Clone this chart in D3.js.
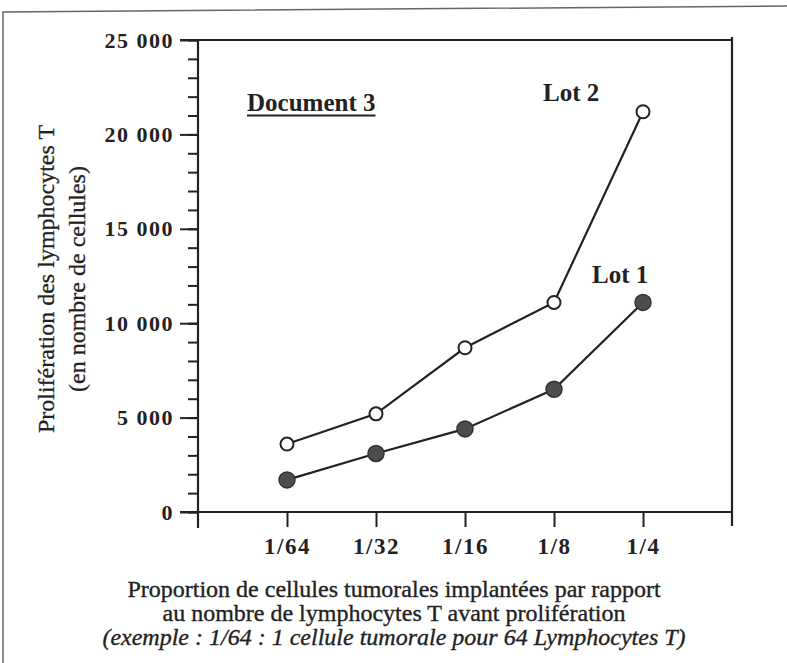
<!DOCTYPE html>
<html><head><meta charset="utf-8">
<script src="https://cdn.jsdelivr.net/npm/d3@7"></script>
<style>body{margin:0;background:#fff}svg{display:block}</style>
</head><body>
<svg id="c" width="787" height="663"></svg>
<script>
const categories = ["1/64", "1/32", "1/16", "1/8", "1/4"];
const lot1 = [1700, 3100, 4400, 6500, 11100];
const lot2 = [3600, 5200, 8700, 11100, 21200];
const yMajorTicks = [0, 5000, 10000, 15000, 20000, 25000];
const yMinorTicks = d3.range(0, 25001, 1000);
const seriesLabels = ["Lot 1", "Lot 2"];
const docTitle = "Document 3";
const yTitle = ["Prolifération des lymphocytes T", "(en nombre de cellules)"];
const xTitle = [
  "Proportion de cellules tumorales implantées par rapport",
  "au nombre de lymphocytes T avant prolifération",
  "(exemple : 1/64 : 1 cellule tumorale pour 64 Lymphocytes T)"
];

const svg = d3.select("#c");
const serif = "'Liberation Serif', 'Times New Roman', serif";
const ink = "#222";

// outer scanned frame
svg.append("path")
  .attr("d", "M3,663 L3,12 L787,6")
  .attr("fill", "none").attr("stroke", "#666").attr("stroke-width", 1.5);

const x = d3.scaleLinear().domain([0, categories.length + 1]).range([198, 732]);
const y = d3.scaleLinear().domain([0, 25000]).range([512, 40]);

const loc = d3.formatLocale({decimal: ",", thousands: " ", grouping: [3], currency: ["", ""]});
const fmt = loc.format(",d");

// minor y ticks
const gMinor = svg.append("g").attr("transform", `translate(${x(0)},0)`)
  .call(d3.axisLeft(y).tickValues(yMinorTicks).tickSize(10).tickFormat(""));
gMinor.select(".domain").remove();
gMinor.selectAll("line").attr("stroke", ink).attr("stroke-width", 2);

// major y ticks
const gY = svg.append("g").attr("transform", `translate(${x(0)},0)`)
  .call(d3.axisLeft(y).tickValues(yMajorTicks).tickSize(18).tickPadding(6).tickFormat(fmt));
gY.select(".domain").remove();
gY.selectAll("line").attr("stroke", ink).attr("stroke-width", 2);
gY.selectAll("text")
  .attr("font-family", serif).attr("font-size", 22).attr("font-weight", "bold")
  .attr("letter-spacing", "1.5px").attr("fill", ink);

// x axis
const gX = svg.append("g").attr("transform", `translate(0,${y(0)})`)
  .call(d3.axisBottom(x).tickValues(d3.range(1, categories.length + 1))
    .tickSize(15).tickPadding(11).tickFormat(i => categories[i - 1]));
gX.select(".domain").remove();
gX.selectAll("line").attr("stroke", ink).attr("stroke-width", 2);
gX.selectAll("text")
  .attr("font-family", serif).attr("font-size", 23).attr("font-weight", "bold")
  .attr("letter-spacing", "1.5px").attr("fill", ink);

// frame lines
const frame = svg.append("g").attr("stroke", ink).attr("stroke-width", 2.2).attr("fill", "none");
frame.append("line").attr("x1", x(0) - 18).attr("x2", x(categories.length + 1)).attr("y1", y(0)).attr("y2", y(0));
frame.append("line").attr("x1", x(0) - 18).attr("x2", x(categories.length + 1)).attr("y1", y(25000)).attr("y2", y(25000));
frame.append("line").attr("x1", x(0)).attr("x2", x(0)).attr("y1", y(25000)).attr("y2", y(0) + 16);
frame.append("line").attr("x1", x(categories.length + 1)).attr("x2", x(categories.length + 1)).attr("y1", y(25000) - 3).attr("y2", y(0) + 14);

// series lines
const line = d3.line().x((d, i) => x(i + 1)).y(d => y(d));
[lot2, lot1].forEach(s => {
  svg.append("path").datum(s).attr("d", line)
    .attr("fill", "none").attr("stroke", ink).attr("stroke-width", 2.2);
});

// markers
svg.append("g").selectAll("circle").data(lot1).join("circle")
  .attr("cx", (d, i) => x(i + 1)).attr("cy", d => y(d)).attr("r", 8)
  .attr("fill", "#4d4d4d").attr("stroke", "#333").attr("stroke-width", 1.5);
svg.append("g").selectAll("circle").data(lot2).join("circle")
  .attr("cx", (d, i) => x(i + 1)).attr("cy", d => y(d)).attr("r", 6.5)
  .attr("fill", "#fff").attr("stroke", ink).attr("stroke-width", 2);

// labels
const lbl = (t, xx, yy) => svg.append("text").attr("x", xx).attr("y", yy).text(t)
  .attr("font-family", serif).attr("font-size", 25).attr("font-weight", "bold").attr("fill", ink);
const doc = lbl(docTitle, 247, 111);
const dw = doc.node().getComputedTextLength();
svg.append("line").attr("x1", 247).attr("x2", 247 + dw).attr("y1", 115.5).attr("y2", 115.5)
  .attr("stroke", ink).attr("stroke-width", 2);
lbl(seriesLabels[1], 543, 101);
lbl(seriesLabels[0], 592, 283);

// y title
yTitle.forEach((t, i) => {
  svg.append("text").attr("transform", `translate(${54 + i * 31},279) rotate(-90)`)
    .attr("text-anchor", "middle").text(t)
    .attr("font-family", serif).attr("font-size", 24).attr("fill", ink)
    .attr("stroke", ink).attr("stroke-width", 0.3);
});

// x title
xTitle.forEach((t, i) => {
  svg.append("text").attr("x", 394).attr("y", 597 + i * 24)
    .attr("text-anchor", "middle").text(t)
    .attr("font-family", serif).attr("font-size", 24)
    .attr("font-style", i === 2 ? "italic" : "normal").attr("fill", ink)
    .attr("stroke", ink).attr("stroke-width", 0.35);
});
</script>
</body></html>
